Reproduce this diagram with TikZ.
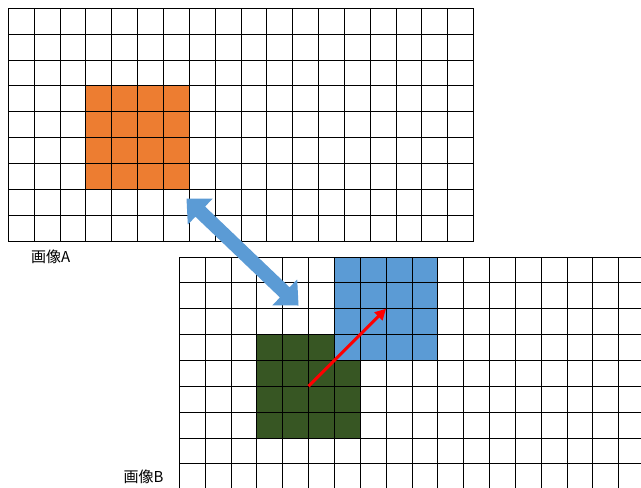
\documentclass[tikz,border=0pt]{standalone}
\usepackage{fontspec}
\newfontfamily\cjk{Noto Sans CJK JP}
\usetikzlibrary{calc,arrows.meta}
\definecolor{cellorange}{RGB}{237,125,49}
\definecolor{cellblue}{RGB}{91,155,213}
\definecolor{cellgreen}{RGB}{55,86,35}
\definecolor{arrowblue}{RGB}{91,155,213}
\begin{document}
\begin{tikzpicture}[x=1pt,y=-1pt,
  gridline/.style={black,line width=0.9pt},
  lbl/.style={anchor=west,inner sep=0pt,font=\cjk\fontsize{15}{18}\selectfont},
  movearrow/.style={red,line width=3pt,-{Triangle[length=11pt,width=11pt]}}]
\useasboundingbox (0,0) rectangle (641,488);
\clip (0,0) rectangle (641,488);
\fill[white] (0,0) rectangle (641,488);
% image A
\begin{scope}[shift={(8.3,8.3)},x=25.85pt,y=-25.85pt]
  \fill[cellorange] (3,3) rectangle (7,7);
  \foreach \i in {0,...,18} \draw[gridline] (\i,0) -- (\i,9);
  \foreach \j in {0,...,9} \draw[gridline] (0,\j) -- (18,\j);
  \draw[gridline] (0,0) rectangle (18,9);
\end{scope}
% image B
\begin{scope}[shift={(179.3,257)},x=25.85pt,y=-25.85pt]
  \fill[cellgreen] (3,3) rectangle (7,7);
  \fill[cellblue] (6,0) rectangle (10,4);
  \foreach \i in {0,...,18} \draw[gridline] (\i,0) -- (\i,9);
  \foreach \j in {0,...,9} \draw[gridline] (0,\j) -- (18,\j);
  \draw[gridline] (0,0) rectangle (18,9);
  \coordinate (gc) at (5,5);
  \coordinate (bc) at (8,2);
\end{scope}
% double arrow
\coordinate (dA) at (186.5,198.5);
\coordinate (dB) at (298.5,305.5);
\fill[arrowblue] (dA)
  -- ($(dA)!19pt!(dB)!18pt!90:(dB)$)
  -- ($(dA)!19pt!(dB)!7pt!90:(dB)$)
  -- ($(dB)!19pt!(dA)!7pt!-90:(dA)$)
  -- ($(dB)!19pt!(dA)!18pt!-90:(dA)$)
  -- (dB)
  -- ($(dB)!19pt!(dA)!18pt!90:(dA)$)
  -- ($(dB)!19pt!(dA)!7pt!90:(dA)$)
  -- ($(dA)!19pt!(dB)!7pt!-90:(dB)$)
  -- ($(dA)!19pt!(dB)!18pt!-90:(dB)$)
  -- cycle;
% red motion arrow
\draw[movearrow] (gc) -- (bc);
% labels
\node[lbl] (labA) at (31,256.5) {画像A};
\node[lbl] (labB) at (123.5,476.5) {画像B};
\end{tikzpicture}
\end{document}
